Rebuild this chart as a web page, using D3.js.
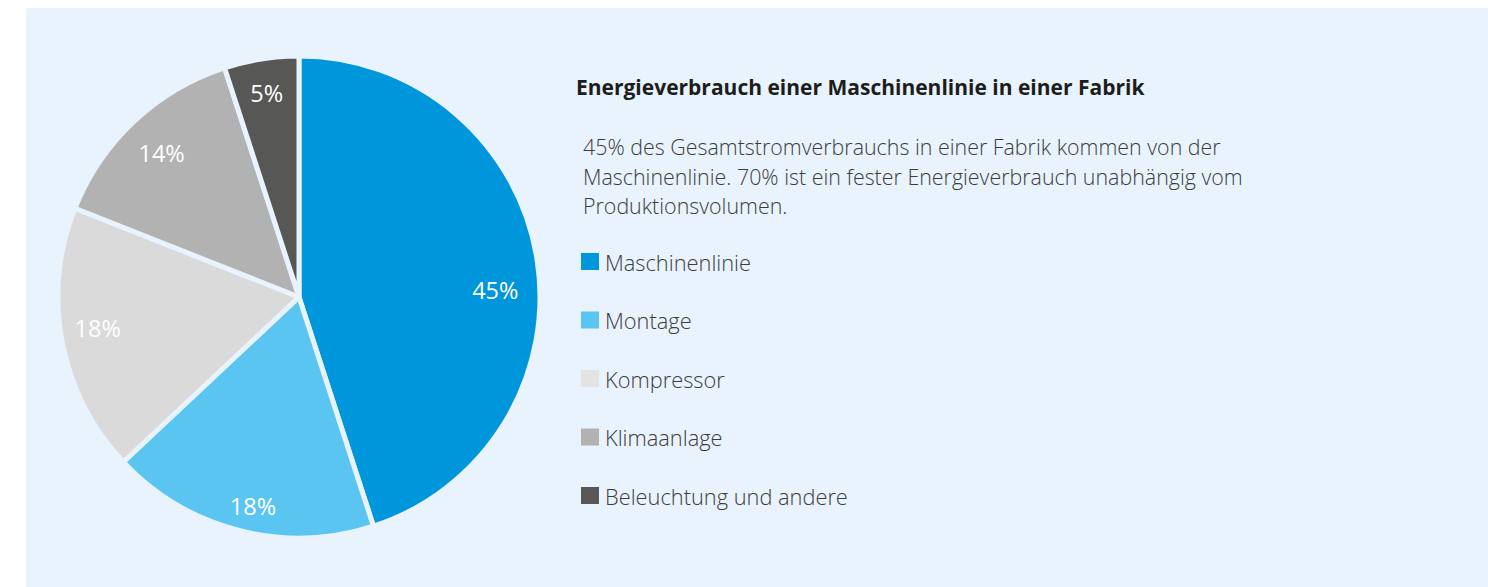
<!DOCTYPE html>
<html>
<head>
<meta charset="utf-8">
<script src="https://cdn.jsdelivr.net/npm/d3@7"></script>
<style>
  html, body { margin: 0; padding: 0; background: #ffffff; }
  svg { display: block; }
</style>
</head>
<body>
<svg id="chart" width="1488" height="587"></svg>
<script>
const categories = ["Maschinenlinie", "Montage", "Kompressor", "Klimaanlage", "Beleuchtung und andere"];
const values = [45, 18, 18, 14, 5];
const sliceColors = ["#0096db", "#5bc5f2", "#dadada", "#b2b2b2", "#575756"];
const legendColors = ["#0096db", "#5bc5f2", "#e3e3e3", "#b2b2b2", "#575756"];
const title = "Energieverbrauch einer Maschinenlinie in einer Fabrik";
const descriptionLines = [
  "45% des Gesamtstromverbrauchs in einer Fabrik kommen von der",
  "Maschinenlinie. 70% ist ein fester Energieverbrauch unabhängig vom",
  "Produktionsvolumen."
];
// label placement nudges relative to each slice's mid-angle (degrees) and radius factor
const labelAngleShift = [7, -2, 2, -0.5, 0];
const labelRadiusFactor = [0.815, 0.89, 0.845, 0.825, 0.855];

const W = 1488, H = 587;
const bg = "#e8f3fd";
const font = "'Open Sans', 'Noto Sans', sans-serif";
const svg = d3.select("#chart");

svg.append("rect").attr("x", 26).attr("y", 8).attr("width", W - 26).attr("height", H - 8).attr("fill", bg);

const cx = 299, cy = 297, r = 241;
const pie = d3.pie().sort(null).value(d => d)(values);
const arc = d3.arc().innerRadius(0).outerRadius(r);

const g = svg.append("g").attr("transform", `translate(${cx},${cy})`);
g.selectAll("path.slice").data(pie).enter().append("path")
  .attr("class", "slice")
  .attr("d", arc)
  .attr("fill", (d, i) => sliceColors[i])
  .attr("stroke", bg)
  .attr("stroke-width", 5)
  .attr("stroke-linejoin", "round");

g.selectAll("text.lbl").data(pie).enter().append("text")
  .attr("class", "lbl")
  .attr("transform", (d, i) => {
    const a = (d.startAngle + d.endAngle) / 2 + labelAngleShift[i] * Math.PI / 180;
    const lr = r * labelRadiusFactor[i];
    return `translate(${lr * Math.sin(a)},${-lr * Math.cos(a)})`;
  })
  .attr("text-anchor", "middle")
  .attr("dominant-baseline", "central")
  .attr("font-family", font)
  .attr("font-size", 23.5)
  .attr("font-weight", 400)
  .attr("fill", "#ffffff")
  .text(d => d.value + "%");

svg.append("text")
  .attr("x", 576).attr("y", 95)
  .attr("font-family", font).attr("font-size", 21).attr("font-weight", 700)
  .attr("fill", "#1d1d1b")
  .text(title);

svg.append("g").selectAll("text").data(descriptionLines).enter().append("text")
  .attr("x", 583).attr("y", (d, i) => 155 + i * 29.5)
  .attr("font-family", font).attr("font-size", 21.4).attr("font-weight", 300)
  .attr("fill", "#3c3c3b")
  .text(d => d);

const legendY = d3.scalePoint().domain(categories).range([262, 496]);
const lg = svg.append("g").selectAll("g").data(categories).enter().append("g")
  .attr("transform", d => `translate(581,${legendY(d)})`);
lg.append("rect").attr("x", 0).attr("y", -9).attr("width", 18).attr("height", 17)
  .attr("fill", (d, i) => legendColors[i]);
lg.append("text").attr("x", 24).attr("y", 0)
  .attr("dominant-baseline", "central")
  .attr("font-family", font).attr("font-size", 21.8).attr("font-weight", 300)
  .attr("fill", "#3c3c3b")
  .text(d => d);
</script>
</body>
</html>
